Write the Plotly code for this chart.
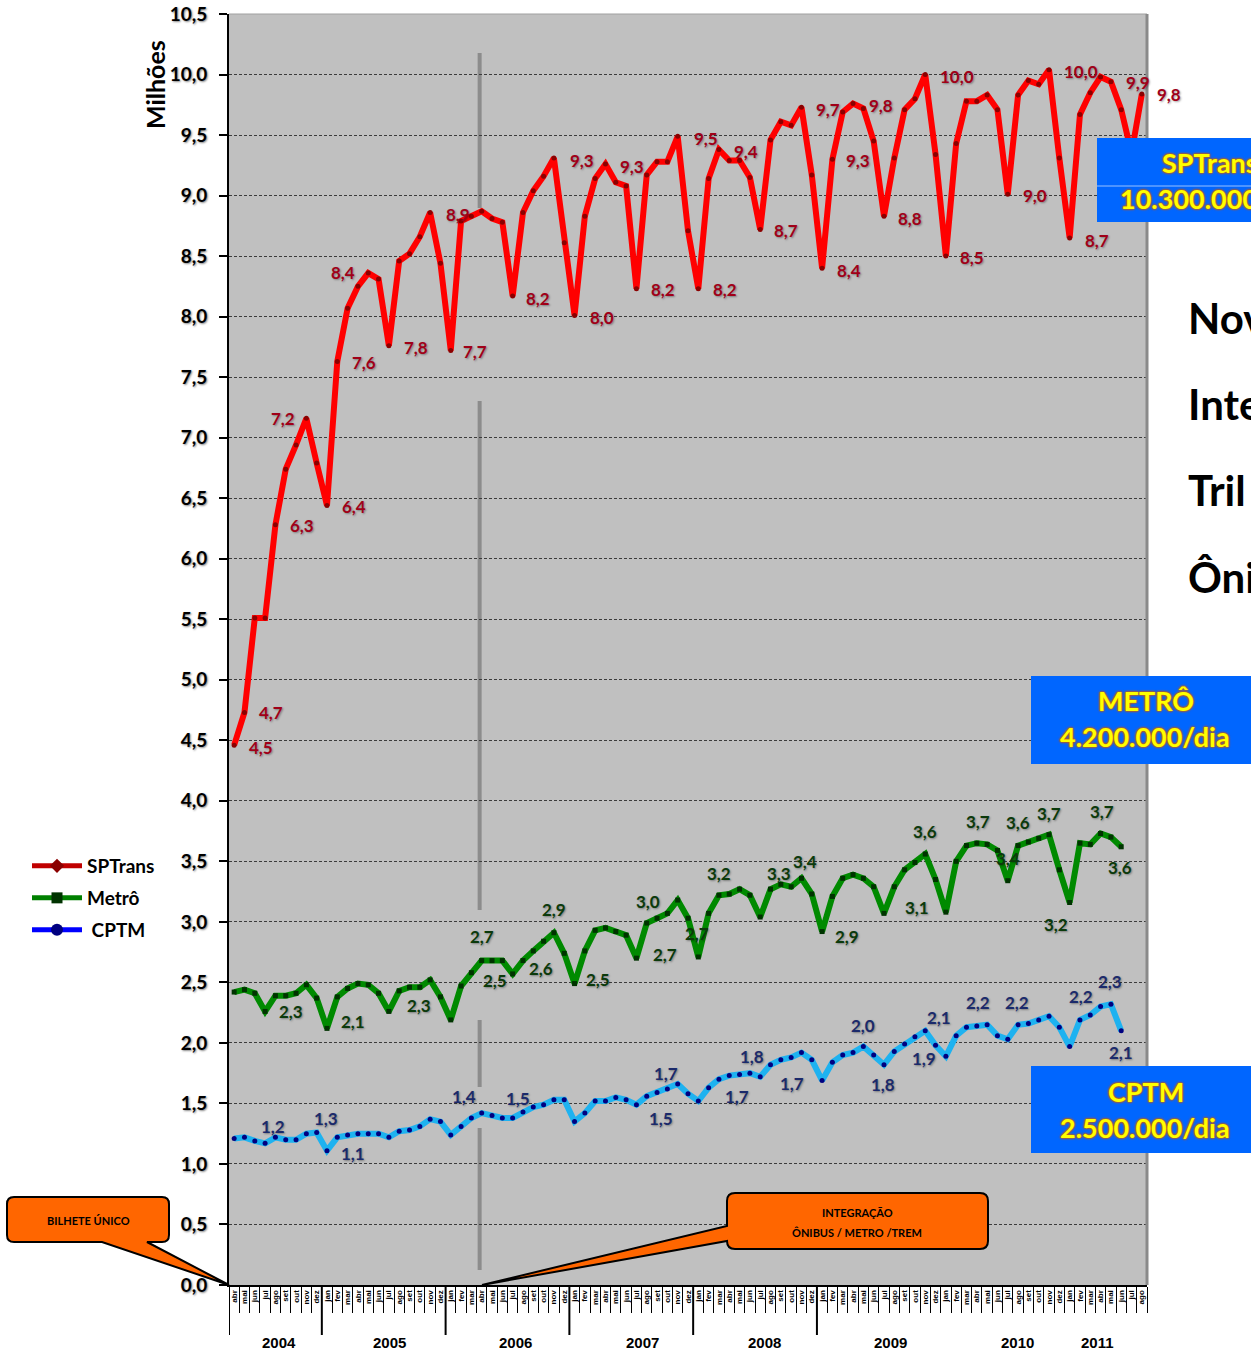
import plotly.graph_objects as go

# ---------------- data ----------------
month_abbr = ["jan", "fev", "mar", "abr", "mai", "jun", "jul", "ago", "set", "out", "nov", "dez"]
years = ["2004", "2005", "2006", "2007", "2008", "2009", "2010", "2011"]
year_first_month = [4, 1, 1, 1, 1, 1, 1, 1]
year_last_month = [12, 12, 12, 12, 12, 12, 12, 8]

months = []
for yr, a, b in zip(years, year_first_month, year_last_month):
    for m in range(a, b + 1):
        months.append(month_abbr[m - 1])
idx = list(range(len(months)))

sptrans = [4.46, 4.73, 5.51, 5.51, 6.28, 6.74, 6.94, 7.16, 6.79,
           6.44, 7.63, 8.07, 8.25, 8.36, 8.31, 7.76, 8.46, 8.52, 8.66, 8.86, 8.44,
           7.72, 8.79, 8.83, 8.87, 8.81, 8.78, 8.17, 8.86, 9.04, 9.16, 9.31, 8.61,
           8.01, 8.83, 9.14, 9.26, 9.11, 9.08, 8.23, 9.17, 9.28, 9.28, 9.49, 8.71,
           8.23, 9.14, 9.38, 9.29, 9.29, 9.15, 8.72, 9.46, 9.61, 9.58, 9.73, 9.17,
           8.40, 9.30, 9.69, 9.76, 9.72, 9.45, 8.83, 9.31, 9.71, 9.80, 10.00, 9.34,
           8.50, 9.43, 9.78, 9.78, 9.83, 9.71, 9.01, 9.83, 9.95, 9.92, 10.04, 9.31,
           8.65, 9.67, 9.85, 9.98, 9.94, 9.71, 9.35, 9.84]

metro = [2.42, 2.44, 2.41, 2.26, 2.39, 2.39, 2.41, 2.48, 2.37,
         2.12, 2.38, 2.45, 2.49, 2.48, 2.41, 2.26, 2.43, 2.46, 2.46, 2.52, 2.38,
         2.19, 2.47, 2.58, 2.68, 2.68, 2.68, 2.57, 2.68, 2.76, 2.84, 2.91, 2.74,
         2.49, 2.76, 2.93, 2.95, 2.92, 2.89, 2.70, 2.99, 3.03, 3.07, 3.18, 3.03,
         2.71, 3.07, 3.22, 3.23, 3.27, 3.22, 3.04, 3.27, 3.31, 3.29, 3.36, 3.23,
         2.92, 3.21, 3.36, 3.39, 3.36, 3.29, 3.07, 3.29, 3.43, 3.49, 3.56, 3.35,
         3.08, 3.50, 3.63, 3.65, 3.64, 3.59, 3.34, 3.63, 3.66, 3.69, 3.72, 3.43,
         3.16, 3.65, 3.64, 3.73, 3.70, 3.62, None, None]

cptm = [1.21, 1.22, 1.19, 1.17, 1.22, 1.20, 1.20, 1.25, 1.26,
        1.11, 1.22, 1.24, 1.25, 1.25, 1.25, 1.22, 1.27, 1.28, 1.31, 1.37, 1.35,
        1.24, 1.31, 1.38, 1.42, 1.40, 1.38, 1.38, 1.43, 1.47, 1.49, 1.53, 1.53,
        1.35, 1.42, 1.52, 1.52, 1.55, 1.53, 1.49, 1.56, 1.59, 1.62, 1.66, 1.58,
        1.52, 1.63, 1.70, 1.73, 1.74, 1.75, 1.72, 1.82, 1.86, 1.88, 1.92, 1.86,
        1.69, 1.84, 1.90, 1.92, 1.97, 1.90, 1.82, 1.93, 1.99, 2.05, 2.10, 1.98,
        1.89, 2.06, 2.13, 2.14, 2.15, 2.06, 2.03, 2.15, 2.16, 2.19, 2.22, 2.13,
        1.97, 2.19, 2.23, 2.30, 2.32, 2.10, None, None]

# data labels shown on the chart (index into series, text)
sptrans_label_idx = [0, 1, 4, 7, 9, 10, 13, 15, 21, 24, 27, 31, 33, 36, 39, 43,
                     45, 47, 51, 55, 57, 58, 60, 63, 67, 69, 75, 79, 81, 85, 88]
sptrans_label_txt = ["4,5", "4,7", "6,3", "7,2", "6,4", "7,6", "8,4", "7,8", "7,7", "8,9",
                     "8,2", "9,3", "8,0", "9,3", "8,2", "9,5", "8,2", "9,4", "8,7", "9,7",
                     "8,4", "9,3", "9,8", "8,8", "10,0", "8,5", "9,0", "10,0", "8,7", "9,9", "9,8"]
metro_label_idx = [3, 9, 15, 24, 27, 29, 31, 33, 39, 40, 45, 47, 53, 55, 57, 63,
                   67, 72, 75, 76, 79, 81, 84, 86]
metro_label_txt = ["2,3", "2,1", "2,3", "2,7", "2,5", "2,6", "2,9", "2,5", "2,7", "3,0",
                   "2,7", "3,2", "3,3", "3,4", "2,9", "3,1", "3,6", "3,7", "3,4", "3,6",
                   "3,7", "3,2", "3,7", "3,6"]
cptm_label_idx = [3, 8, 9, 24, 28, 39, 43, 48, 52, 57, 61, 63, 67, 69, 72, 76, 82, 85, 86]
cptm_label_txt = ["1,2", "1,3", "1,1", "1,4", "1,5", "1,5", "1,7", "1,7", "1,8", "1,7",
                  "2,0", "1,8", "2,1", "1,9", "2,2", "2,2", "2,2", "2,3", "2,1"]

y_ticks = [i * 0.5 for i in range(22)]
y_ticktext = [f"{v:.1f}".replace(".", ",") for v in y_ticks]

# ---------------- layout constants (positions / styles) ----------------
W, H = 1251, 1352
PL, PR, PT, PB = 229, 1147, 14, 1285


def fx(x):
    return (x - PL) / (PR - PL)


def fy(y):
    return (PB - y) / (PB - PT)


# pixel offsets (dx, dy) of each data label from its point
sptrans_label_off = [(27, 2), (27, 0), (27, 1), (-23, 0), (27, 1), (27, 1), (-25, -1), (27, 2),
                     (24, 1), (-24, 3), (25, 2), (28, 2), (27, 2), (27, 2), (27, 1), (28, 2),
                     (27, 1), (27, 2), (26, 1), (27, 2), (27, 2), (26, 1), (28, 2), (26, 2),
                     (32, 2), (26, 1), (27, 1), (32, 2), (27, 3), (27, 1), (27, 1)]
metro_label_off = [(26, 0), (26, -7), (30, -6), (0, -24), (-18, 7), (8, 18), (0, -23), (23, -4),
                   (29, -4), (1, -22), (-1, -23), (0, -22), (-2, -11), (4, -17), (25, 5),
                   (33, -6), (0, -23), (1, -22), (0, -22), (0, -23), (0, -21), (-14, 22),
                   (1, -22), (-1, 21)]
cptm_label_off = [(8, -17), (9, -14), (26, 3), (-18, -17), (-5, -13), (25, 14), (-12, -11),
                  (8, 21), (-19, -8), (-30, 3), (0, -21), (-1, 20), (14, -13), (-22, 2),
                  (1, -23), (-1, -22), (1, -23), (-1, -23), (0, 22)]

year_label_x = [4.35, 15.1, 27.3, 39.6, 51.4, 63.6, 75.9, 83.7]
divider_x = [-0.5, 8.5, 20.5, 32.5, 44.5, 56.5]

FONT = "Lato"

fig = go.Figure()

fig.add_trace(go.Scatter(
    x=idx, y=cptm, mode="lines+markers", name="CPTM", showlegend=False,
    line=dict(color="#1EB2F0", width=6),
    marker=dict(symbol="circle", size=5, color="#000080")))
fig.add_trace(go.Scatter(
    x=idx, y=metro, mode="lines+markers", name="Metrô", showlegend=False,
    line=dict(color="#008A00", width=6),
    marker=dict(symbol="square", size=5, color="#003300")))
fig.add_trace(go.Scatter(
    x=idx, y=sptrans, mode="lines+markers", name="SPTrans", showlegend=False,
    line=dict(color="#FF0000", width=6),
    marker=dict(symbol="circle", size=5, color="#8B0000")))

# legend entries
leg_items = [("SPTrans", "#C00000", "diamond", "#8B0000", 11, "legend", 866),
             ("Metrô", "#008000", "square", "#003300", 11, "legend2", 898),
             (" CPTM", "#0000FF", "circle", "#000080", 12, "legend3", 930)]
for name, lc, sym, mc, ms, lg, _ in leg_items:
    fig.add_trace(go.Scatter(
        x=[None], y=[None], mode="lines+markers", name=name, legend=lg,
        line=dict(color=lc, width=5),
        marker=dict(symbol=sym, size=ms, color=mc)))

leg_font = dict(family=FONT, size=19, color="black", weight="bold")
legends = {}
for name, lc, sym, mc, ms, lg, ypix in leg_items:
    legends[lg] = dict(x=fx(27), y=fy(ypix), xanchor="left", yanchor="middle",
                       bgcolor="rgba(0,0,0,0)", font=leg_font, itemwidth=50)

annotations = []


def add_labels(series, ids, txts, offs, color):
    for i, t, (dx, dy) in zip(ids, txts, offs):
        annotations.append(dict(
            x=i, y=series[i], xref="x", yref="y", text=t, showarrow=False,
            xanchor="center", yanchor="middle", xshift=dx, yshift=-dy,
            font=dict(family=FONT, size=17, color=color, weight="bold",
                      shadow="1px 1px 2px rgba(0,0,0,0.35)")))


add_labels(sptrans, sptrans_label_idx, sptrans_label_txt, sptrans_label_off, "#A00018")
add_labels(metro, metro_label_idx, metro_label_txt, metro_label_off, "#0B3A0B")
add_labels(cptm, cptm_label_idx, cptm_label_txt, cptm_label_off, "#1B2A6B")

# year labels
for yr, xp in zip(years, year_label_x):
    annotations.append(dict(x=xp, y=fy(1342), xref="x", yref="paper", text=yr,
                            showarrow=False, xanchor="center", yanchor="middle",
                            font=dict(family="Liberation Sans", size=15, color="black", weight="bold")))

# axis title
annotations.append(dict(x=fx(155), y=fy(85), xref="paper", yref="paper", text="Milhões",
                        showarrow=False, textangle=-90, xanchor="center", yanchor="middle",
                        font=dict(family=FONT, size=25, color="black", weight="bold")))

# boxes text
box_font = dict(family=FONT, size=27, color="#FFFF00", weight="bold",
                shadow="0 0 2px #D05A00, 0 0 2px #D05A00, 0 0 3px #D05A00")
annotations += [
    dict(x=fx(1160), y=fy(162), xref="paper", yref="paper", text="SPTrans", showarrow=False,
         xanchor="left", yanchor="middle", font=box_font),
    dict(x=fx(1118), y=fy(198), xref="paper", yref="paper", text="10.300.000/dia", showarrow=False,
         xanchor="left", yanchor="middle", font=box_font),
    dict(x=fx(1146), y=fy(700), xref="paper", yref="paper", text="METRÔ", showarrow=False,
         xanchor="center", yanchor="middle", font=box_font),
    dict(x=fx(1145), y=fy(736), xref="paper", yref="paper", text="4.200.000/dia", showarrow=False,
         xanchor="center", yanchor="middle", font=box_font),
    dict(x=fx(1146), y=fy(1091), xref="paper", yref="paper", text="CPTM", showarrow=False,
         xanchor="center", yanchor="middle", font=box_font),
    dict(x=fx(1145), y=fy(1127), xref="paper", yref="paper", text="2.500.000/dia", showarrow=False,
         xanchor="center", yanchor="middle", font=box_font),
]

# big text on the right (cut by the page edge, as in the reference)
for t, ypix in [("Nov", 318), ("Inte", 404), ("Tril", 490), ("Ôni", 577)]:
    annotations.append(dict(x=fx(1186), y=fy(ypix), xref="paper", yref="paper", text=t,
                            showarrow=False, xanchor="left", yanchor="middle",
                            font=dict(family=FONT, size=42, color="black", weight="bold")))

# callout texts
call_font = dict(family=FONT, size=11, color="black", weight="bold")
annotations += [
    dict(x=fx(88), y=fy(1220), xref="paper", yref="paper", text="BILHETE ÚNICO", showarrow=False,
         xanchor="center", yanchor="middle", font=call_font),
    dict(x=fx(857), y=fy(1212), xref="paper", yref="paper", text="INTEGRAÇÃO", showarrow=False,
         xanchor="center", yanchor="middle", font=call_font),
    dict(x=fx(857), y=fy(1232), xref="paper", yref="paper", text="ÔNIBUS / METRO /TREM", showarrow=False,
         xanchor="center", yanchor="middle", font=call_font),
]


def path_from(points):
    """points: list of (cmd, [(x,y),...]) in pixels -> svg path in paper coords"""
    s = ""
    for cmd, pts in points:
        s += cmd + " ".join(f"{fx(x):.5f},{fy(y):.5f}" for x, y in pts) + " "
    return s + "Z"


def callout_rect_bottom(x0, y0, x1, y1, r, wa, wb, tip):
    return path_from([
        ("M", [(x0 + r, y0)]), ("L", [(x1 - r, y0)]), ("Q", [(x1, y0), (x1, y0 + r)]),
        ("L", [(x1, y1 - r)]), ("Q", [(x1, y1), (x1 - r, y1)]),
        ("L", [(wb, y1)]), ("L", [tip]), ("L", [(wa, y1)]),
        ("L", [(x0 + r, y1)]), ("Q", [(x0, y1), (x0, y1 - r)]),
        ("L", [(x0, y0 + r)]), ("Q", [(x0, y0), (x0 + r, y0)])])


def callout_rect_left(x0, y0, x1, y1, r, wa, wb, tip):
    return path_from([
        ("M", [(x0 + r, y0)]), ("L", [(x1 - r, y0)]), ("Q", [(x1, y0), (x1, y0 + r)]),
        ("L", [(x1, y1 - r)]), ("Q", [(x1, y1), (x1 - r, y1)]),
        ("L", [(x0 + r, y1)]), ("Q", [(x0, y1), (x0, y1 - r)]),
        ("L", [(x0, wb)]), ("L", [tip]), ("L", [(x0, wa)]),
        ("L", [(x0, y0 + r)]), ("Q", [(x0, y0), (x0 + r, y0)])])


shapes = []
# plot border (top/right)
shapes.append(dict(type="line", xref="paper", yref="paper", x0=0, x1=1, y0=1, y1=1,
                   line=dict(color="#A0A0A0", width=1), layer="above"))
shapes.append(dict(type="line", xref="paper", yref="paper", x0=1, x1=1, y0=0, y1=1,
                   line=dict(color="#8A8A8A", width=3), layer="above"))
# integration marker line
for y0p, y1p in [(53, 208), (401, 910), (1020, 1087), (1128, 1270)]:
    shapes.append(dict(type="line", xref="x", yref="paper", x0=23.8, x1=23.8,
                       y0=fy(y0p), y1=fy(y1p), line=dict(color="#8C8C8C", width=4), layer="below"))
# year dividers
for xd in divider_x:
    shapes.append(dict(type="line", xref="x", yref="paper", x0=xd, x1=xd, y0=0, y1=fy(1335),
                       line=dict(color="black", width=2)))
# blue boxes
for (x0, y0, x1, y1) in [(1097, 138, 1260, 222), (1031, 676, 1260, 764), (1031, 1066, 1260, 1153)]:
    shapes.append(dict(type="rect", xref="paper", yref="paper", x0=fx(x0), x1=fx(x1),
                       y0=fy(y0), y1=fy(y1), fillcolor="#0066FF", line=dict(width=0), layer="above"))
shapes.append(dict(type="line", xref="paper", yref="paper", x0=fx(1097), x1=fx(1260),
                   y0=fy(186), y1=fy(186), line=dict(color="rgba(255,255,255,0.6)", width=1), layer="above"))
# callouts
shapes.append(dict(type="path", xref="paper", yref="paper",
                   path=callout_rect_bottom(7, 1197, 169, 1242, 7, 102, 147, (229, 1285)),
                   fillcolor="#FF6600", line=dict(color="black", width=2), layer="above"))
shapes.append(dict(type="path", xref="paper", yref="paper",
                   path=callout_rect_left(727, 1193, 988, 1249, 8, 1226, 1241, (482, 1285)),
                   fillcolor="#FF6600", line=dict(color="black", width=2), layer="above"))

fig.update_layout(
    width=W, height=H, autosize=False,
    margin=dict(l=PL, r=W - PR, t=PT, b=H - PB, pad=0, autoexpand=False),
    paper_bgcolor="white", plot_bgcolor="#C0C0C0",
    annotations=annotations, shapes=shapes,
    **legends,
)

fig.update_xaxes(
    range=[-0.5, len(months) - 0.5], tickmode="array", tickvals=idx, ticktext=months,
    tickangle=-90, ticks="", showgrid=False, zeroline=False, automargin=False,
    showline=True, linecolor="black", linewidth=2,
    tickfont=dict(family="Liberation Sans", size=8, color="black", weight="bold"),
    minor=dict(tickmode="array", tickvals=[i - 0.5 for i in range(len(months) + 1)],
               ticks="outside", ticklen=26, tickcolor="black", tickwidth=1, showgrid=False),
)
fig.update_yaxes(
    range=[0, 10.5], tickmode="array", tickvals=y_ticks, ticktext=y_ticktext,
    ticks="outside", ticklen=8, tickwidth=2, tickcolor="black", automargin=False,
    showline=True, linecolor="black", linewidth=2, zeroline=False,
    showgrid=True, gridcolor="#3C3C3C", gridwidth=1, griddash="3px,2px",
    ticklabelstandoff=8,
    tickfont=dict(family=FONT, size=19, color="black", weight="bold",
                  shadow="1px 1px 2px #888"),
)

fig.write_html("out.html", config={"displayModeBar": False},
               post_script="document.body.style.margin='0';")
